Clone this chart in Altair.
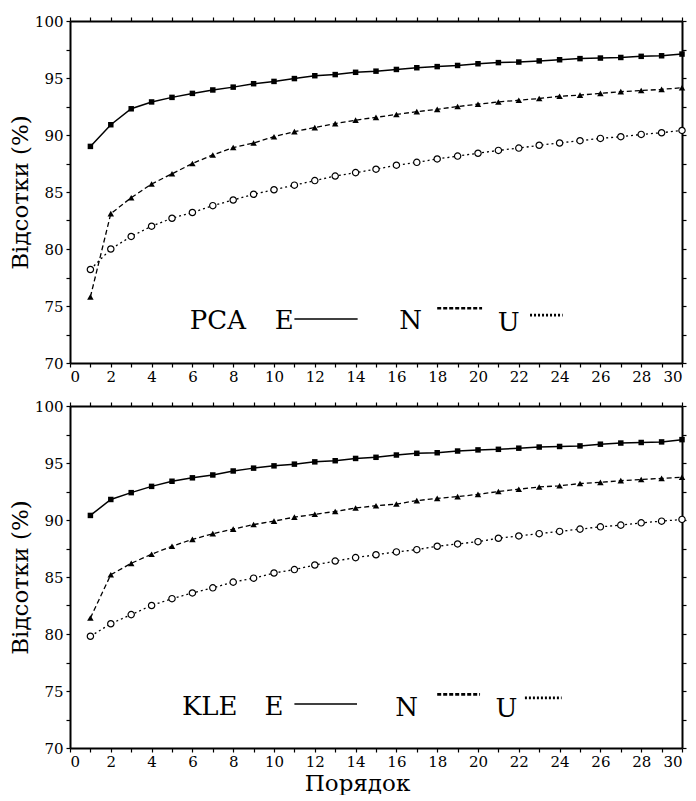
import altair as alt
import pandas as pd

FONT = "DejaVu Serif"

# Order of the approximation (1..30)
ORDER = list(range(1, 31))

# PCA: cumulative percentages for the E, N and U components
pca_E = [89.0, 90.9, 92.3, 92.9, 93.3, 93.65, 93.95, 94.2, 94.5, 94.7,
         94.95, 95.2, 95.3, 95.5, 95.6, 95.75, 95.9, 96.0, 96.1, 96.25,
         96.35, 96.4, 96.5, 96.6, 96.7, 96.75, 96.8, 96.9, 96.95, 97.1]
pca_N = [75.8, 83.1, 84.5, 85.7, 86.6, 87.5, 88.25, 88.9, 89.3, 89.85,
         90.3, 90.65, 91.0, 91.3, 91.55, 91.8, 92.05, 92.25, 92.5, 92.7,
         92.9, 93.05, 93.2, 93.4, 93.5, 93.65, 93.8, 93.9, 94.0, 94.15]
pca_U = [78.2, 80.0, 81.1, 82.0, 82.7, 83.2, 83.8, 84.3, 84.8, 85.2,
         85.6, 86.0, 86.4, 86.7, 87.0, 87.35, 87.6, 87.9, 88.15, 88.4,
         88.65, 88.85, 89.1, 89.3, 89.5, 89.7, 89.85, 90.05, 90.2, 90.4]

# KLE: cumulative percentages for the E, N and U components
kle_E = [90.4, 91.8, 92.4, 92.95, 93.4, 93.7, 93.95, 94.3, 94.55, 94.75,
         94.9, 95.1, 95.2, 95.4, 95.5, 95.7, 95.85, 95.9, 96.05, 96.15,
         96.2, 96.3, 96.4, 96.45, 96.5, 96.65, 96.75, 96.8, 96.85, 97.05]
kle_N = [81.4, 85.2, 86.2, 87.0, 87.7, 88.3, 88.8, 89.2, 89.6, 89.9,
         90.25, 90.5, 90.75, 91.05, 91.25, 91.4, 91.7, 91.9, 92.05, 92.25,
         92.5, 92.7, 92.9, 93.0, 93.2, 93.3, 93.45, 93.55, 93.65, 93.75]
kle_U = [79.8, 80.9, 81.7, 82.5, 83.1, 83.6, 84.05, 84.55, 84.9, 85.35,
         85.65, 86.05, 86.4, 86.7, 86.95, 87.2, 87.4, 87.7, 87.9, 88.1,
         88.4, 88.6, 88.8, 89.0, 89.2, 89.4, 89.55, 89.75, 89.9, 90.05]

# Inline key texts
PCA_KEY = ["PCA", "E", "N", "U"]
KLE_KEY = ["KLE", "E", "N", "U"]

# Key placement in data units (order, percent)
PCA_KEY_X = [7.25, 10.5, 16.7, 21.5]
PCA_KEY_Y = [73.0, 73.0, 73.0, 72.8]
KLE_KEY_X = [6.85, 10.0, 16.5, 21.4]
KLE_KEY_Y = [72.9, 72.9, 72.8, 72.7]
# Key line samples: (x start, x end, y) for E, N, U
PCA_KEY_LINES = [(11.0, 14.1, 73.85), (18.0, 20.2, 74.8), (22.55, 24.15, 74.2)]
KLE_KEY_LINES = [(11.0, 14.07, 73.85), (18.0, 20.1, 74.7), (22.3, 24.1, 74.4)]

X_SCALE = alt.Scale(domain=[0, 30], nice=False, zero=False)
Y_SCALE = alt.Scale(domain=[70, 100], nice=False, zero=False)
X_TICKS = list(range(0, 31))
Y_TICKS = [70 + 2.5 * i for i in range(13)]


def series_frame(values):
    return pd.DataFrame({"order": ORDER, "pct": values})


def panel(e_vals, n_vals, u_vals, key_text, key_x, key_y, key_lines, x_title):
    df_e, df_n, df_u = series_frame(e_vals), series_frame(n_vals), series_frame(u_vals)

    bottom_axis = alt.Axis(values=X_TICKS, labelExpr="datum.value % 2 == 0 ? datum.label : ''",
                           tickSize=4, labelPadding=2, grid=False,
                           title=x_title if x_title else None,
                           titleX=287, titlePadding=3)
    left_axis = alt.Axis(values=Y_TICKS, labelExpr="datum.value % 5 == 0 ? datum.label : ''",
                         tickSize=4, labelPadding=3, grid=False, title="Відсотки (%)",
                         titlePadding=2)
    top_axis = alt.Axis(orient="top", values=X_TICKS, labels=False, tickSize=4,
                        grid=False, title=None)
    right_axis = alt.Axis(orient="right", values=Y_TICKS, labels=False, tickSize=4,
                          grid=False, title=None)

    def enc(chart, xa=None, ya=None):
        return chart.encode(
            x=alt.X("order:Q", scale=X_SCALE, axis=xa),
            y=alt.Y("pct:Q", scale=Y_SCALE, axis=ya),
        )

    e_line = enc(alt.Chart(df_e).mark_line(color="black", strokeWidth=1.5), bottom_axis, left_axis)
    n_line = enc(alt.Chart(df_n).mark_line(color="black", strokeWidth=1.3, strokeDash=[5, 3]),
                 top_axis, right_axis)
    u_line = enc(alt.Chart(df_u).mark_line(color="black", strokeWidth=1.3, strokeDash=[2, 3]))

    e_pts = enc(alt.Chart(df_e).mark_point(shape="square", filled=True, size=30,
                                           color="black", opacity=1))
    n_pts = enc(alt.Chart(df_n).mark_point(shape="triangle-up", filled=True, size=42,
                                           color="black", opacity=1))
    u_pts = enc(alt.Chart(df_u).mark_point(shape="circle", filled=True, fill="white",
                                           stroke="black", strokeWidth=1.2, size=40,
                                           opacity=1))

    key_df = pd.DataFrame({"order": key_x, "pct": key_y, "label": key_text})
    key_txt = enc(alt.Chart(key_df).mark_text(font=FONT, fontSize=26, color="black",
                                               align="center", baseline="alphabetic")).encode(
        text="label:N")

    dashes = [None, [4, 2], [2, 2]]
    widths = [1.5, 2.6, 2.6]
    key_rules = []
    for (x0, x1, yv), dash, w in zip(key_lines, dashes, widths):
        kdf = pd.DataFrame({"order": [x0], "end": [x1], "pct": [yv]})
        props = dict(color="black", strokeWidth=w)
        if dash:
            props["strokeDash"] = dash
        key_rules.append(
            alt.Chart(kdf).mark_rule(**props).encode(
                x=alt.X("order:Q", scale=X_SCALE, axis=None),
                x2="end:Q",
                y=alt.Y("pct:Q", scale=Y_SCALE, axis=None),
            )
        )

    return alt.layer(e_line, n_line, u_line, e_pts, n_pts, u_pts, key_txt, *key_rules).resolve_axis(
        x="independent", y="independent"
    ).properties(width=612, height=342)


top = panel(pca_E, pca_N, pca_U, PCA_KEY, PCA_KEY_X, PCA_KEY_Y, PCA_KEY_LINES, None)
bottom = panel(kle_E, kle_N, kle_U, KLE_KEY, KLE_KEY_X, KLE_KEY_Y, KLE_KEY_LINES, "Порядок")

chart = alt.vconcat(top, bottom, spacing=15).properties(
    padding={"left": 9, "top": 14, "right": 4, "bottom": 0},
    background="white",
).configure_view(stroke=None).configure_axis(
    domainColor="black", domainWidth=2, tickColor="black", tickWidth=1.2,
    labelFont=FONT, labelFontSize=15, labelColor="black",
    titleFont=FONT, titleFontSize=23, titleFontWeight="normal", titleColor="black",
)

chart.save("out.html", embed_options={"renderer": "svg", "actions": False})
